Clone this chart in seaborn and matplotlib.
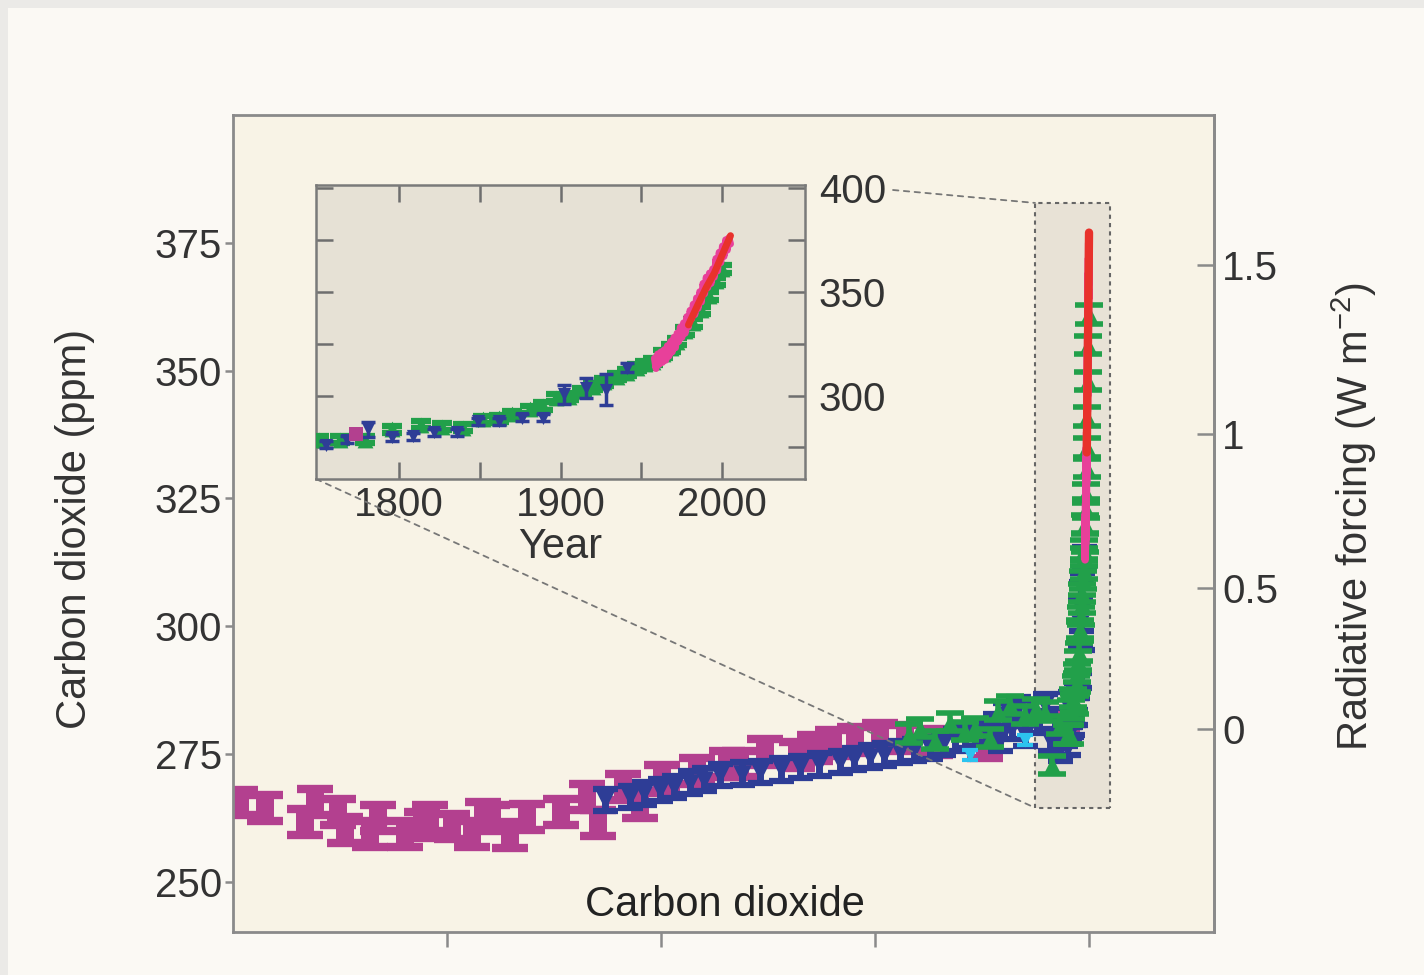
import numpy as np
import matplotlib
matplotlib.use('Agg')
import matplotlib.pyplot as plt
from matplotlib.patches import Rectangle, ConnectionPatch
import seaborn as sns

# --- pre-industrial ice core records (years before 2005, ppm) ---
mag_bp = [9918, 9626, 9158, 9041, 8773, 8691, 8399, 8306, 7990, 7792, 7698, 7441, 7208, 7079,
          6974, 6764, 6565, 6168, 5864, 5736, 5444, 5245, 4988, 4579, 4229, 4077, 3785, 3411,
          3200, 2991, 2733, 2441, 2149, 1799, 1215]
mag_co2 = [265.5, 264.5, 261.7, 265.6, 263.7, 260.2, 259.4, 262.5, 259.4, 261.1, 262.5, 260.8,
           259.4, 263.1, 262.5, 259.2, 262.7, 263.7, 266.6, 261.5, 268.6, 264.9, 270.3, 271.7,
           273.1, 273.1, 275.4, 274.8, 276.2, 277.2, 277.8, 278.6, 278.2, 277.4, 276.8]

blue_bp = [5654, 5362, 5200, 5011, 4850, 4661, 4500, 4311, 4050, 3843, 3600, 3376, 3150, 2909,
           2750, 2558, 2400, 2208, 2050, 1857, 1700, 1565, 1450, 1332, 1200, 1098, 1040, 981,
           899, 829, 748, 689, 607, 514, 456, 397, 339, 280]
blue_co2 = [266.0, 266.6, 267.3, 268.0, 268.6, 269.4, 270.0, 270.9, 271.2, 271.5, 272.0, 272.5,
            273.0, 273.5, 274.0, 274.5, 274.9, 275.4, 275.8, 276.2, 277.0, 277.8, 278.3, 278.8,
            279.5, 280.7, 277.8, 282.7, 280.1, 284.0, 278.8, 283.3, 281.3, 284.6, 277.8, 281.7,
            275.8, 278.8]

green_bp = [2100, 1974, 1799, 1624, 1450, 1332, 1156, 1060, 923, 748, 620, 514, 432, 339]
green_co2 = [279.0, 280.1, 277.8, 281.3, 279.5, 280.3, 278.2, 283.5, 284.6, 282.7, 284.0, 283.3,
             272.9, 280.7]

cyan_bp = [1390, 748]
cyan_co2 = [274.8, 277.8]

# --- industrial era (calendar year, ppm) ---
law_year = [1755, 1768, 1781, 1796, 1809, 1822, 1836, 1849, 1862, 1876, 1889, 1902, 1916, 1928, 1941]
law_co2 = [276.4, 278.8, 283.7, 279.8, 280.3, 282.2, 282.2, 287.5, 287.5, 289.4, 289.4, 300.5,
           303.8, 302.9, 313.5]
law_err = [1.5, 1.5, 3.5, 1.5, 1.5, 1.5, 1.5, 1.5, 1.5, 1.5, 1.5, 4.8, 4.8, 7.6, 2.0]

grn_year = [1751, 1764, 1779, 1796, 1814, 1827, 1840, 1852, 1862, 1870, 1881, 1889, 1897, 1905,
            1913, 1920, 1927, 1935, 1941, 1947, 1952, 1957, 1963, 1968, 1972, 1977, 1982, 1987,
            1992, 1996, 2000]
grn_co2 = [278.8, 278.8, 278.8, 283.7, 286.0, 285.0, 284.6, 288.5, 289.0, 290.9, 293.3, 295.0,
           299.0, 299.5, 302.0, 304.3, 306.5, 309.1, 311.0, 313.5, 315.0, 316.3, 320.0, 323.0,
           326.0, 331.0, 335.0, 341.0, 348.0, 355.0, 361.0]

magi_year = [1774]
magi_co2 = [281.3]

ml_year = list(range(1958, 2006))
ml_co2 = [318, 313, 320, 315, 321, 316, 322, 317, 324, 319, 326, 321, 328, 323, 330, 326,
          333, 328, 335, 330, 338, 333, 341, 337, 344, 339, 347, 342, 350, 345, 354, 349,
          357, 352, 359, 354, 361, 357, 366, 360, 369, 364, 372, 367, 375, 370, 376, 373]

glob_year = [1979, 1985, 1990, 1995, 2000, 2005]
glob_co2 = [334, 344, 352, 359, 368, 377]

main_yticks = [250, 275, 300, 325, 350, 375]
rf_ticks = [0, 0.5, 1, 1.5]
rf_labels = ['0', '0.5', '1', '1.5']
inset_xticks = [1800, 1850, 1900, 1950, 2000]
inset_xlabels = ['1800', '', '1900', '', '2000']
inset_yticks = [275, 300, 325, 350, 375, 400]
inset_ylabels = ['', '300', '', '350', '', '400']

C_MAG = '#b3408f'
C_BLUE = '#2e3d96'
C_GREEN = '#22a04a'
C_CYAN = '#2cc3ef'
C_PINK = '#e8409a'
C_RED = '#e8322c'
TXT = '#333333'
SPINE = '#8a8a8a'

sns.set_theme(style='ticks')
plt.rcParams['font.family'] = ['Liberation Sans', 'DejaVu Sans']
plt.rcParams['mathtext.default'] = 'regular'


def marks(ax, x, y, err, color, marker, s, capsize, capthick, elw, z):
    ax.errorbar(x, y, yerr=err, fmt='none', ecolor=color, elinewidth=elw,
                capsize=capsize, capthick=capthick, zorder=z)
    if marker is not None:
        sns.scatterplot(x=x, y=y, marker=marker, s=s, color=color, linewidth=0,
                        ax=ax, zorder=z, legend=False)


def to_bp(years):
    return [2005 - yr for yr in years]


fig = plt.figure(figsize=(14.24, 9.75), dpi=100, facecolor='#ebeae7')
fig.add_artist(Rectangle((8 / 1424, 0), 1, 1 - 8 / 975, transform=fig.transFigure,
                         facecolor='#fbf9f4', edgecolor='none', zorder=-1))

# main panel
ax = fig.add_axes([233 / 1424, 1 - 932 / 975, 981 / 1424, 817 / 975], facecolor='#f8f3e6')
ax.set_xlim(10000, -1460)
ax.set_ylim(240.2, 400)

ax.add_patch(Rectangle((-245, 264.5), 876, 118.3, facecolor='#e8e2d6', edgecolor='#666666',
                       linestyle=(0, (2, 2)), linewidth=1.5, zorder=0.5))

marks(ax, mag_bp, mag_co2, 2.5, C_MAG, 's', 180, 13, 6, 12, 2)
marks(ax, blue_bp, blue_co2, 2.2, C_BLUE, 'v', 180, 9, 4.5, 5, 3)
marks(ax, to_bp(magi_year), magi_co2, 1.8, C_MAG, 's', 80, 8, 3, 6, 3)
marks(ax, to_bp(law_year), law_co2, law_err, C_BLUE, 'v', 170, 9, 4.5, 4.5, 3)
marks(ax, green_bp, green_co2, 1.8, C_GREEN, '^', 150, 10, 4, 4, 4)
marks(ax, to_bp(grn_year), grn_co2, 1.8, C_GREEN, '^', 150, 10, 4, 4, 4)
marks(ax, cyan_bp, cyan_co2, 1.0, C_CYAN, 'v', 100, 6, 3, 3, 4.5)
sns.lineplot(x=to_bp(ml_year), y=ml_co2, color=C_PINK, linewidth=5.5, sort=False, ax=ax, zorder=5)
sns.lineplot(x=to_bp(glob_year), y=glob_co2, color=C_RED, linewidth=6, sort=False, ax=ax, zorder=6)

ax.set_xticks([7500, 5000, 2500, 0])
ax.set_xticklabels([])
ax.set_yticks(main_yticks)
ax.tick_params(axis='x', direction='out', length=11, width=1.8, color=SPINE)
ax.tick_params(axis='y', direction='out', length=6, width=1.8, color=SPINE, pad=2,
               labelsize=29, labelcolor=TXT)
for sp in ax.spines.values():
    sp.set_color(SPINE)
    sp.set_linewidth(2)
ax.set_xlabel('')
ax.set_ylabel('Carbon dioxide (ppm)', fontsize=30, color=TXT)
ax.yaxis.set_label_coords(-0.141, 0.493)
ax.text(0.5015, 0.033, 'Carbon dioxide', transform=ax.transAxes, ha='center', va='center',
        fontsize=30, color='#222222')

# radiative forcing axis
sec = ax.secondary_yaxis('right', functions=(lambda c: 5.35 * np.log(np.maximum(c, 1e-6) / 280.0),
                                             lambda f: 280.0 * np.exp(f / 5.35)))
sec.set_yticks(rf_ticks)
sec.set_yticklabels(rf_labels)
sec.tick_params(direction='in', length=12, width=1.8, color=SPINE, pad=6, labelsize=29,
                labelcolor=TXT)
sec.spines['right'].set_color(SPINE)
sec.spines['right'].set_linewidth(2)
ax.text(1.118, 0.508, 'Radiative forcing (W m$^{-2}$)', transform=ax.transAxes, rotation=90,
        ha='left', va='center', fontsize=30, color=TXT)

# inset
ins = fig.add_axes([316 / 1424, 1 - 479 / 975, 489 / 1424, 294 / 975], facecolor='#e6e1d5')
ins.set_xlim(1749, 2051)
ins.set_ylim(259.8, 401.4)
marks(ins, grn_year, grn_co2, 1.8, C_GREEN, '^', 130, 7, 4.5, 4.5, 3)
marks(ins, law_year, law_co2, law_err, C_BLUE, 'v', 90, 5, 2.5, 2.5, 4)
marks(ins, magi_year, magi_co2, 2.0, C_MAG, 's', 90, 5, 3, 3, 4)
sns.lineplot(x=ml_year, y=ml_co2, color=C_PINK, linewidth=5, sort=False, ax=ins, zorder=5)
sns.lineplot(x=glob_year, y=glob_co2, color=C_RED, linewidth=5, sort=False, ax=ins, zorder=6)

ins.set_xticks(inset_xticks)
ins.set_xticklabels(inset_xlabels)
ins.set_yticks(inset_yticks)
ins.set_yticklabels(inset_ylabels)
ins.tick_params(axis='x', direction='in', length=12, width=1.8, color='#6e6e6e', top=True,
                bottom=True, pad=5, labelsize=29, labelcolor=TXT)
ins.tick_params(axis='y', direction='in', length=12, width=1.8, color='#6e6e6e', left=True,
                right=True, labelleft=False, labelright=True, pad=10, labelsize=29,
                labelcolor=TXT)
for sp in ins.spines.values():
    sp.set_color('#7a7a7a')
    sp.set_linewidth(1.8)
ins.set_xlabel('Year', fontsize=30, color=TXT, labelpad=2)
ins.set_ylabel('')

# zoom connectors
for xyA, xyB in [((1.18, 0.983), (631, 382.8)), ((0.0, 0.0), (631, 264.5))]:
    con = ConnectionPatch(xyA=xyA, coordsA=ins.transAxes, xyB=xyB, coordsB=ax.transData,
                          color='#777777', linewidth=1.3, linestyle=(0, (3, 3)))
    fig.add_artist(con)

fig.savefig('out.png', dpi=100, facecolor=fig.get_facecolor())
